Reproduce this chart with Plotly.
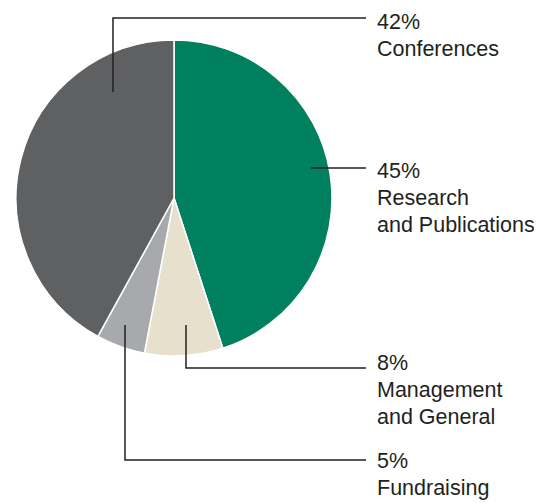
import plotly.graph_objects as go

categories = ["Research and Publications", "Management and General", "Fundraising", "Conferences"]
values = [45, 8, 5, 42]
colors = ["#00805f", "#e6e0cd", "#a7a9ac", "#5f6062"]

label_lines = [
    ["45%", "Research", "and Publications"],
    ["8%", "Management", "and General"],
    ["5%", "Fundraising"],
    ["42%", "Conferences"],
]

OFF = 8  # page body margin offset
W, H = 542 - OFF, 503 - OFF

def px(x):
    return (x - OFF) / W

def py(y):
    return 1 - (y - OFF) / H

fig = go.Figure()
fig.add_trace(go.Pie(
    labels=categories,
    values=values,
    sort=False,
    direction="clockwise",
    rotation=0,
    marker=dict(colors=colors, line=dict(color="white", width=1.5)),
    textinfo="none",
    hoverinfo="label+percent",
    showlegend=False,
    domain=dict(x=[px(16), px(332)], y=[py(356), py(40)]),
))

# leader lines (pixel paths)
leaders = [
    [(311, 168), (366, 168)],
    [(186, 325), (186, 368), (366, 368)],
    [(125, 325), (125, 460), (366, 460)],
    [(113, 92), (113, 18), (366, 18)],
]
shapes = []
for pts in leaders:
    path = "M " + " L ".join(f"{px(x)},{py(y)}" for x, y in pts)
    shapes.append(dict(type="path", path=path, xref="paper", yref="paper",
                       line=dict(color="#231f20", width=1.5)))

first_line_y = [171, 363, 461, 22]
spacing = 27
annotations = []
for lines, y0 in zip(label_lines, first_line_y):
    for i, t in enumerate(lines):
        annotations.append(dict(
            text=t, x=px(375), y=py(y0 + i * spacing), xref="paper", yref="paper",
            xanchor="left", yanchor="middle", showarrow=False,
            font=dict(family="Liberation Sans, Arial, sans-serif", size=21.5, color="#231f20"),
        ))

fig.update_layout(
    width=W, height=H, autosize=False,
    margin=dict(l=0, r=0, t=0, b=0),
    paper_bgcolor="white", plot_bgcolor="white",
    shapes=shapes, annotations=annotations,
)

fig.write_html("out.html")
